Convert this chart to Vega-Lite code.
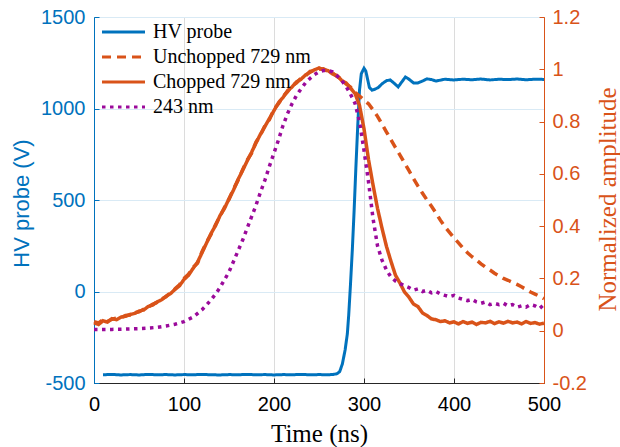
{
  "$schema": "https://vega.github.io/schema/vega-lite/v6.json",
  "width": 450,
  "height": 366,
  "autosize": {"type": "none"},
  "padding": {"left": 94, "top": 17, "right": 76, "bottom": 64},
  "background": "white",
  "config": {"view": {"stroke": "#262626", "strokeWidth": 1}, "font": "Liberation Sans", "axis": {"titleFontWeight": "normal"}, "axisX": {"titleFontWeight": "normal"}},
  "encoding": {
    "x": {"field": "t", "type": "quantitative", "scale": {"domain": [0, 500], "nice": false},
      "axis": {"title": "Time (ns)", "titleFont": "Liberation Serif", "titleFontSize": 25, "titleFontWeight": "normal", "titleColor": "#000000",
        "titleY": 58, "titleBaseline": "alphabetic",
        "labelFont": "Liberation Sans", "labelFontSize": 20, "labelColor": "#000000", "labelFlush": false, "labelOverlap": false,
        "values": [0, 100, 200, 300, 400, 500], "labelExpr": "'' + datum.value",
        "tickSize": -5, "tickColor": "#262626", "domainColor": "#262626", "labelPadding": 16,
        "grid": true, "gridColor": "#dcdcdc"}}
  },
  "layer": [
    {
      "data": {"values": [
        {"t":10,"v":-455,"s":"HV probe"},{"t":20,"v":-453,"s":"HV probe"},{"t":30,"v":-456,"s":"HV probe"},{"t":40,"v":-454,"s":"HV probe"},{"t":50,"v":-456,"s":"HV probe"},{"t":60,"v":-453,"s":"HV probe"},{"t":70,"v":-455,"s":"HV probe"},{"t":80,"v":-454,"s":"HV probe"},{"t":90,"v":-456,"s":"HV probe"},{"t":100,"v":-454,"s":"HV probe"},{"t":110,"v":-455,"s":"HV probe"},{"t":120,"v":-453,"s":"HV probe"},{"t":130,"v":-455,"s":"HV probe"},{"t":140,"v":-456,"s":"HV probe"},{"t":150,"v":-454,"s":"HV probe"},{"t":160,"v":-455,"s":"HV probe"},{"t":170,"v":-453,"s":"HV probe"},{"t":180,"v":-455,"s":"HV probe"},{"t":190,"v":-454,"s":"HV probe"},{"t":200,"v":-456,"s":"HV probe"},{"t":210,"v":-454,"s":"HV probe"},{"t":220,"v":-455,"s":"HV probe"},{"t":230,"v":-453,"s":"HV probe"},{"t":240,"v":-455,"s":"HV probe"},{"t":250,"v":-454,"s":"HV probe"},{"t":260,"v":-455,"s":"HV probe"},{"t":266,"v":-453,"s":"HV probe"},{"t":270,"v":-449,"s":"HV probe"},{"t":273,"v":-438,"s":"HV probe"},{"t":276,"v":-395,"s":"HV probe"},{"t":279,"v":-320,"s":"HV probe"},{"t":281.5,"v":-231,"s":"HV probe"},{"t":283,"v":-130,"s":"HV probe"},{"t":285,"v":40,"s":"HV probe"},{"t":287,"v":225,"s":"HV probe"},{"t":289,"v":440,"s":"HV probe"},{"t":291,"v":680,"s":"HV probe"},{"t":293,"v":900,"s":"HV probe"},{"t":295,"v":1100,"s":"HV probe"},{"t":297,"v":1190,"s":"HV probe"},{"t":300,"v":1220,"s":"HV probe"},{"t":302,"v":1205,"s":"HV probe"},{"t":304,"v":1160,"s":"HV probe"},{"t":306,"v":1115,"s":"HV probe"},{"t":309,"v":1100,"s":"HV probe"},{"t":312,"v":1105,"s":"HV probe"},{"t":316,"v":1115,"s":"HV probe"},{"t":320,"v":1135,"s":"HV probe"},{"t":325,"v":1152,"s":"HV probe"},{"t":329,"v":1156,"s":"HV probe"},{"t":333,"v":1140,"s":"HV probe"},{"t":338,"v":1118,"s":"HV probe"},{"t":342,"v":1145,"s":"HV probe"},{"t":346,"v":1172,"s":"HV probe"},{"t":350,"v":1160,"s":"HV probe"},{"t":355,"v":1140,"s":"HV probe"},{"t":360,"v":1140,"s":"HV probe"},{"t":365,"v":1150,"s":"HV probe"},{"t":370,"v":1162,"s":"HV probe"},{"t":375,"v":1158,"s":"HV probe"},{"t":380,"v":1150,"s":"HV probe"},{"t":385,"v":1155,"s":"HV probe"},{"t":390,"v":1160,"s":"HV probe"},{"t":400,"v":1156,"s":"HV probe"},{"t":410,"v":1160,"s":"HV probe"},{"t":420,"v":1157,"s":"HV probe"},{"t":430,"v":1161,"s":"HV probe"},{"t":440,"v":1156,"s":"HV probe"},{"t":450,"v":1160,"s":"HV probe"},{"t":460,"v":1158,"s":"HV probe"},{"t":470,"v":1161,"s":"HV probe"},{"t":480,"v":1157,"s":"HV probe"},{"t":490,"v":1160,"s":"HV probe"},{"t":500,"v":1159,"s":"HV probe"}
      ]},
      "mark": {"type": "line", "strokeWidth": 3},
      "encoding": {
        "y": {"field": "v", "type": "quantitative", "scale": {"domain": [-500, 1500], "nice": false},
          "axis": {"title": "HV probe (V)", "titleFont": "Liberation Sans", "titleFontSize": 22, "titleFontWeight": "normal", "titleColor": "#0072BD",
            "titleX": -73, "titleY": 186, "titleBaseline": "middle", "titleAlign": "center", "titleAngle": 270,
            "labelFont": "Liberation Sans", "labelFontSize": 20, "labelColor": "#0072BD", "labelOverlap": false, "labelFlush": false,
            "values": [-500, 0, 500, 1000, 1500], "labelExpr": "'' + datum.value",
            "tickSize": -5, "tickColor": "#0072BD", "domainColor": "#0072BD", "labelPadding": 14,
            "grid": true, "gridColor": "#d9eaf5"}},
        "color": {"field": "s", "type": "nominal",
          "scale": {"domain": ["HV probe", "Unchopped 729 nm", "Chopped 729 nm", "243 nm"], "range": ["#0072BD", "#D95319", "#D95319", "#9B0A9B"]},
          "legend": {"orient": "none", "legendX": 17, "legendY": 2.5, "title": null, "symbolType": "M-2,0H2", "symbolSize": 462, "symbolStrokeWidth": 3,
            "labelFont": "Liberation Serif", "labelFontSize": 20, "labelColor": "#000000", "rowPadding": 2, "labelOffset": 17, "padding": 0}},
        "strokeDash": {"field": "s", "type": "nominal",
          "scale": {"domain": ["HV probe", "Unchopped 729 nm", "Chopped 729 nm", "243 nm"], "range": [[1, 0], [9, 6], [1, 0], [3.5, 4.5]]},
          "legend": {"orient": "none", "legendX": 17, "legendY": 2.5, "title": null, "symbolType": "M-2,0H2", "symbolSize": 462, "symbolStrokeWidth": 3,
            "labelFont": "Liberation Serif", "labelFontSize": 20, "labelColor": "#000000", "rowPadding": 2, "labelOffset": 17, "padding": 0}}
      }
    },
    {
      "data": {"values": [
        {"t":0,"v":0.035,"s":"Unchopped 729 nm"},{"t":5,"v":0.03,"s":"Unchopped 729 nm"},{"t":10,"v":0.042,"s":"Unchopped 729 nm"},{"t":15,"v":0.036,"s":"Unchopped 729 nm"},{"t":20,"v":0.044,"s":"Unchopped 729 nm"},{"t":25,"v":0.048,"s":"Unchopped 729 nm"},{"t":30,"v":0.05,"s":"Unchopped 729 nm"},{"t":35,"v":0.058,"s":"Unchopped 729 nm"},{"t":40,"v":0.06,"s":"Unchopped 729 nm"},{"t":45,"v":0.069,"s":"Unchopped 729 nm"},{"t":50,"v":0.072,"s":"Unchopped 729 nm"},{"t":55,"v":0.082,"s":"Unchopped 729 nm"},{"t":60,"v":0.09,"s":"Unchopped 729 nm"},{"t":65,"v":0.101,"s":"Unchopped 729 nm"},{"t":70,"v":0.108,"s":"Unchopped 729 nm"},{"t":75,"v":0.121,"s":"Unchopped 729 nm"},{"t":80,"v":0.13,"s":"Unchopped 729 nm"},{"t":85,"v":0.146,"s":"Unchopped 729 nm"},{"t":90,"v":0.16,"s":"Unchopped 729 nm"},{"t":95,"v":0.176,"s":"Unchopped 729 nm"},{"t":100,"v":0.2,"s":"Unchopped 729 nm"},{"t":105,"v":0.216,"s":"Unchopped 729 nm"},{"t":110,"v":0.242,"s":"Unchopped 729 nm"},{"t":115,"v":0.258,"s":"Unchopped 729 nm"},{"t":120,"v":0.302,"s":"Unchopped 729 nm"},{"t":125,"v":0.338,"s":"Unchopped 729 nm"},{"t":130,"v":0.368,"s":"Unchopped 729 nm"},{"t":135,"v":0.405,"s":"Unchopped 729 nm"},{"t":140,"v":0.438,"s":"Unchopped 729 nm"},{"t":145,"v":0.472,"s":"Unchopped 729 nm"},{"t":150,"v":0.502,"s":"Unchopped 729 nm"},{"t":155,"v":0.542,"s":"Unchopped 729 nm"},{"t":160,"v":0.575,"s":"Unchopped 729 nm"},{"t":165,"v":0.615,"s":"Unchopped 729 nm"},{"t":170,"v":0.652,"s":"Unchopped 729 nm"},{"t":175,"v":0.678,"s":"Unchopped 729 nm"},{"t":180,"v":0.722,"s":"Unchopped 729 nm"},{"t":185,"v":0.748,"s":"Unchopped 729 nm"},{"t":190,"v":0.785,"s":"Unchopped 729 nm"},{"t":195,"v":0.808,"s":"Unchopped 729 nm"},{"t":200,"v":0.848,"s":"Unchopped 729 nm"},{"t":205,"v":0.868,"s":"Unchopped 729 nm"},{"t":210,"v":0.896,"s":"Unchopped 729 nm"},{"t":215,"v":0.914,"s":"Unchopped 729 nm"},{"t":220,"v":0.936,"s":"Unchopped 729 nm"},{"t":225,"v":0.948,"s":"Unchopped 729 nm"},{"t":230,"v":0.966,"s":"Unchopped 729 nm"},{"t":235,"v":0.974,"s":"Unchopped 729 nm"},{"t":240,"v":0.992,"s":"Unchopped 729 nm"},{"t":245,"v":0.994,"s":"Unchopped 729 nm"},{"t":250,"v":1.0,"s":"Unchopped 729 nm"},{"t":255,"v":1.002,"s":"Unchopped 729 nm"},{"t":260,"v":0.992,"s":"Unchopped 729 nm"},{"t":265,"v":0.986,"s":"Unchopped 729 nm"},{"t":270,"v":0.972,"s":"Unchopped 729 nm"},{"t":275,"v":0.962,"s":"Unchopped 729 nm"},{"t":280,"v":0.944,"s":"Unchopped 729 nm"},{"t":285,"v":0.932,"s":"Unchopped 729 nm"},{"t":290,"v":0.912,"s":"Unchopped 729 nm"},{"t":295,"v":0.898,"s":"Unchopped 729 nm"},{"t":300,"v":0.882,"s":"Unchopped 729 nm"},{"t":305,"v":0.868,"s":"Unchopped 729 nm"},{"t":310,"v":0.845,"s":"Unchopped 729 nm"},{"t":315,"v":0.82,"s":"Unchopped 729 nm"},{"t":320,"v":0.79,"s":"Unchopped 729 nm"},{"t":325,"v":0.76,"s":"Unchopped 729 nm"},{"t":330,"v":0.73,"s":"Unchopped 729 nm"},{"t":335,"v":0.7,"s":"Unchopped 729 nm"},{"t":340,"v":0.672,"s":"Unchopped 729 nm"},{"t":345,"v":0.642,"s":"Unchopped 729 nm"},{"t":350,"v":0.612,"s":"Unchopped 729 nm"},{"t":355,"v":0.582,"s":"Unchopped 729 nm"},{"t":360,"v":0.553,"s":"Unchopped 729 nm"},{"t":365,"v":0.526,"s":"Unchopped 729 nm"},{"t":370,"v":0.5,"s":"Unchopped 729 nm"},{"t":375,"v":0.476,"s":"Unchopped 729 nm"},{"t":380,"v":0.45,"s":"Unchopped 729 nm"},{"t":385,"v":0.422,"s":"Unchopped 729 nm"},{"t":390,"v":0.397,"s":"Unchopped 729 nm"},{"t":395,"v":0.376,"s":"Unchopped 729 nm"},{"t":400,"v":0.355,"s":"Unchopped 729 nm"},{"t":405,"v":0.336,"s":"Unchopped 729 nm"},{"t":410,"v":0.316,"s":"Unchopped 729 nm"},{"t":415,"v":0.298,"s":"Unchopped 729 nm"},{"t":420,"v":0.283,"s":"Unchopped 729 nm"},{"t":425,"v":0.27,"s":"Unchopped 729 nm"},{"t":430,"v":0.256,"s":"Unchopped 729 nm"},{"t":435,"v":0.243,"s":"Unchopped 729 nm"},{"t":440,"v":0.232,"s":"Unchopped 729 nm"},{"t":445,"v":0.22,"s":"Unchopped 729 nm"},{"t":450,"v":0.21,"s":"Unchopped 729 nm"},{"t":455,"v":0.2,"s":"Unchopped 729 nm"},{"t":460,"v":0.193,"s":"Unchopped 729 nm"},{"t":465,"v":0.185,"s":"Unchopped 729 nm"},{"t":470,"v":0.177,"s":"Unchopped 729 nm"},{"t":475,"v":0.168,"s":"Unchopped 729 nm"},{"t":480,"v":0.158,"s":"Unchopped 729 nm"},{"t":485,"v":0.148,"s":"Unchopped 729 nm"},{"t":490,"v":0.14,"s":"Unchopped 729 nm"},{"t":495,"v":0.132,"s":"Unchopped 729 nm"},{"t":500,"v":0.122,"s":"Unchopped 729 nm"},
        {"t":0,"v":0.03,"s":"Chopped 729 nm"},{"t":5,"v":0.024,"s":"Chopped 729 nm"},{"t":10,"v":0.038,"s":"Chopped 729 nm"},{"t":15,"v":0.033,"s":"Chopped 729 nm"},{"t":20,"v":0.046,"s":"Chopped 729 nm"},{"t":25,"v":0.042,"s":"Chopped 729 nm"},{"t":30,"v":0.052,"s":"Chopped 729 nm"},{"t":35,"v":0.055,"s":"Chopped 729 nm"},{"t":40,"v":0.062,"s":"Chopped 729 nm"},{"t":45,"v":0.066,"s":"Chopped 729 nm"},{"t":50,"v":0.075,"s":"Chopped 729 nm"},{"t":55,"v":0.079,"s":"Chopped 729 nm"},{"t":60,"v":0.092,"s":"Chopped 729 nm"},{"t":65,"v":0.098,"s":"Chopped 729 nm"},{"t":70,"v":0.11,"s":"Chopped 729 nm"},{"t":75,"v":0.118,"s":"Chopped 729 nm"},{"t":80,"v":0.132,"s":"Chopped 729 nm"},{"t":85,"v":0.142,"s":"Chopped 729 nm"},{"t":90,"v":0.158,"s":"Chopped 729 nm"},{"t":95,"v":0.172,"s":"Chopped 729 nm"},{"t":100,"v":0.196,"s":"Chopped 729 nm"},{"t":105,"v":0.212,"s":"Chopped 729 nm"},{"t":110,"v":0.238,"s":"Chopped 729 nm"},{"t":115,"v":0.262,"s":"Chopped 729 nm"},{"t":120,"v":0.298,"s":"Chopped 729 nm"},{"t":125,"v":0.335,"s":"Chopped 729 nm"},{"t":130,"v":0.372,"s":"Chopped 729 nm"},{"t":135,"v":0.402,"s":"Chopped 729 nm"},{"t":140,"v":0.44,"s":"Chopped 729 nm"},{"t":145,"v":0.468,"s":"Chopped 729 nm"},{"t":150,"v":0.505,"s":"Chopped 729 nm"},{"t":155,"v":0.538,"s":"Chopped 729 nm"},{"t":160,"v":0.578,"s":"Chopped 729 nm"},{"t":165,"v":0.612,"s":"Chopped 729 nm"},{"t":170,"v":0.648,"s":"Chopped 729 nm"},{"t":175,"v":0.682,"s":"Chopped 729 nm"},{"t":180,"v":0.718,"s":"Chopped 729 nm"},{"t":185,"v":0.752,"s":"Chopped 729 nm"},{"t":190,"v":0.782,"s":"Chopped 729 nm"},{"t":195,"v":0.812,"s":"Chopped 729 nm"},{"t":200,"v":0.842,"s":"Chopped 729 nm"},{"t":205,"v":0.872,"s":"Chopped 729 nm"},{"t":210,"v":0.892,"s":"Chopped 729 nm"},{"t":215,"v":0.918,"s":"Chopped 729 nm"},{"t":220,"v":0.932,"s":"Chopped 729 nm"},{"t":225,"v":0.952,"s":"Chopped 729 nm"},{"t":230,"v":0.962,"s":"Chopped 729 nm"},{"t":235,"v":0.978,"s":"Chopped 729 nm"},{"t":240,"v":0.988,"s":"Chopped 729 nm"},{"t":245,"v":0.998,"s":"Chopped 729 nm"},{"t":250,"v":1.005,"s":"Chopped 729 nm"},{"t":255,"v":0.998,"s":"Chopped 729 nm"},{"t":260,"v":0.995,"s":"Chopped 729 nm"},{"t":265,"v":0.982,"s":"Chopped 729 nm"},{"t":270,"v":0.976,"s":"Chopped 729 nm"},{"t":275,"v":0.958,"s":"Chopped 729 nm"},{"t":280,"v":0.948,"s":"Chopped 729 nm"},{"t":285,"v":0.928,"s":"Chopped 729 nm"},{"t":290,"v":0.908,"s":"Chopped 729 nm"},{"t":295,"v":0.862,"s":"Chopped 729 nm"},{"t":300,"v":0.772,"s":"Chopped 729 nm"},{"t":305,"v":0.655,"s":"Chopped 729 nm"},{"t":310,"v":0.558,"s":"Chopped 729 nm"},{"t":315,"v":0.468,"s":"Chopped 729 nm"},{"t":320,"v":0.392,"s":"Chopped 729 nm"},{"t":325,"v":0.322,"s":"Chopped 729 nm"},{"t":330,"v":0.265,"s":"Chopped 729 nm"},{"t":335,"v":0.212,"s":"Chopped 729 nm"},{"t":340,"v":0.182,"s":"Chopped 729 nm"},{"t":345,"v":0.148,"s":"Chopped 729 nm"},{"t":350,"v":0.128,"s":"Chopped 729 nm"},{"t":355,"v":0.102,"s":"Chopped 729 nm"},{"t":360,"v":0.092,"s":"Chopped 729 nm"},{"t":365,"v":0.068,"s":"Chopped 729 nm"},{"t":370,"v":0.058,"s":"Chopped 729 nm"},{"t":375,"v":0.045,"s":"Chopped 729 nm"},{"t":380,"v":0.042,"s":"Chopped 729 nm"},{"t":385,"v":0.035,"s":"Chopped 729 nm"},{"t":390,"v":0.038,"s":"Chopped 729 nm"},{"t":395,"v":0.03,"s":"Chopped 729 nm"},{"t":400,"v":0.034,"s":"Chopped 729 nm"},{"t":405,"v":0.026,"s":"Chopped 729 nm"},{"t":410,"v":0.035,"s":"Chopped 729 nm"},{"t":415,"v":0.028,"s":"Chopped 729 nm"},{"t":420,"v":0.033,"s":"Chopped 729 nm"},{"t":425,"v":0.024,"s":"Chopped 729 nm"},{"t":430,"v":0.032,"s":"Chopped 729 nm"},{"t":435,"v":0.03,"s":"Chopped 729 nm"},{"t":440,"v":0.036,"s":"Chopped 729 nm"},{"t":445,"v":0.027,"s":"Chopped 729 nm"},{"t":450,"v":0.034,"s":"Chopped 729 nm"},{"t":455,"v":0.029,"s":"Chopped 729 nm"},{"t":460,"v":0.036,"s":"Chopped 729 nm"},{"t":465,"v":0.03,"s":"Chopped 729 nm"},{"t":470,"v":0.033,"s":"Chopped 729 nm"},{"t":475,"v":0.026,"s":"Chopped 729 nm"},{"t":480,"v":0.035,"s":"Chopped 729 nm"},{"t":485,"v":0.028,"s":"Chopped 729 nm"},{"t":490,"v":0.031,"s":"Chopped 729 nm"},{"t":495,"v":0.025,"s":"Chopped 729 nm"},{"t":500,"v":0.029,"s":"Chopped 729 nm"},
        {"t":0,"v":0.005,"s":"243 nm"},{"t":10,"v":0.005,"s":"243 nm"},{"t":20,"v":0.005,"s":"243 nm"},{"t":30,"v":0.006,"s":"243 nm"},{"t":40,"v":0.007,"s":"243 nm"},{"t":50,"v":0.008,"s":"243 nm"},{"t":60,"v":0.01,"s":"243 nm"},{"t":70,"v":0.013,"s":"243 nm"},{"t":80,"v":0.018,"s":"243 nm"},{"t":90,"v":0.025,"s":"243 nm"},{"t":100,"v":0.035,"s":"243 nm"},{"t":110,"v":0.052,"s":"243 nm"},{"t":120,"v":0.08,"s":"243 nm"},{"t":125,"v":0.098,"s":"243 nm"},{"t":130,"v":0.118,"s":"243 nm"},{"t":135,"v":0.14,"s":"243 nm"},{"t":140,"v":0.165,"s":"243 nm"},{"t":145,"v":0.195,"s":"243 nm"},{"t":150,"v":0.225,"s":"243 nm"},{"t":155,"v":0.265,"s":"243 nm"},{"t":160,"v":0.305,"s":"243 nm"},{"t":165,"v":0.345,"s":"243 nm"},{"t":170,"v":0.39,"s":"243 nm"},{"t":175,"v":0.435,"s":"243 nm"},{"t":180,"v":0.48,"s":"243 nm"},{"t":185,"v":0.53,"s":"243 nm"},{"t":190,"v":0.577,"s":"243 nm"},{"t":195,"v":0.63,"s":"243 nm"},{"t":200,"v":0.68,"s":"243 nm"},{"t":205,"v":0.73,"s":"243 nm"},{"t":210,"v":0.785,"s":"243 nm"},{"t":215,"v":0.83,"s":"243 nm"},{"t":220,"v":0.868,"s":"243 nm"},{"t":225,"v":0.9,"s":"243 nm"},{"t":230,"v":0.925,"s":"243 nm"},{"t":235,"v":0.948,"s":"243 nm"},{"t":240,"v":0.965,"s":"243 nm"},{"t":245,"v":0.98,"s":"243 nm"},{"t":250,"v":0.99,"s":"243 nm"},{"t":255,"v":0.995,"s":"243 nm"},{"t":260,"v":0.995,"s":"243 nm"},{"t":265,"v":0.99,"s":"243 nm"},{"t":270,"v":0.975,"s":"243 nm"},{"t":275,"v":0.958,"s":"243 nm"},{"t":280,"v":0.935,"s":"243 nm"},{"t":285,"v":0.905,"s":"243 nm"},{"t":290,"v":0.87,"s":"243 nm"},{"t":295,"v":0.8,"s":"243 nm"},{"t":300,"v":0.69,"s":"243 nm"},{"t":305,"v":0.57,"s":"243 nm"},{"t":310,"v":0.43,"s":"243 nm"},{"t":315,"v":0.325,"s":"243 nm"},{"t":320,"v":0.27,"s":"243 nm"},{"t":325,"v":0.232,"s":"243 nm"},{"t":330,"v":0.205,"s":"243 nm"},{"t":335,"v":0.19,"s":"243 nm"},{"t":340,"v":0.18,"s":"243 nm"},{"t":345,"v":0.172,"s":"243 nm"},{"t":350,"v":0.165,"s":"243 nm"},{"t":355,"v":0.155,"s":"243 nm"},{"t":360,"v":0.16,"s":"243 nm"},{"t":365,"v":0.15,"s":"243 nm"},{"t":370,"v":0.155,"s":"243 nm"},{"t":375,"v":0.145,"s":"243 nm"},{"t":380,"v":0.15,"s":"243 nm"},{"t":385,"v":0.14,"s":"243 nm"},{"t":390,"v":0.135,"s":"243 nm"},{"t":395,"v":0.13,"s":"243 nm"},{"t":400,"v":0.135,"s":"243 nm"},{"t":405,"v":0.125,"s":"243 nm"},{"t":410,"v":0.12,"s":"243 nm"},{"t":415,"v":0.115,"s":"243 nm"},{"t":420,"v":0.12,"s":"243 nm"},{"t":425,"v":0.11,"s":"243 nm"},{"t":430,"v":0.105,"s":"243 nm"},{"t":435,"v":0.11,"s":"243 nm"},{"t":440,"v":0.1,"s":"243 nm"},{"t":445,"v":0.105,"s":"243 nm"},{"t":450,"v":0.1,"s":"243 nm"},{"t":455,"v":0.105,"s":"243 nm"},{"t":460,"v":0.095,"s":"243 nm"},{"t":465,"v":0.1,"s":"243 nm"},{"t":470,"v":0.09,"s":"243 nm"},{"t":475,"v":0.095,"s":"243 nm"},{"t":480,"v":0.09,"s":"243 nm"},{"t":485,"v":0.1,"s":"243 nm"},{"t":490,"v":0.095,"s":"243 nm"},{"t":495,"v":0.085,"s":"243 nm"},{"t":500,"v":0.1,"s":"243 nm"}
      ]},
      "mark": {"type": "line", "strokeWidth": 3.5, "strokeCap": "butt"},
      "encoding": {
        "y": {"field": "v", "type": "quantitative", "scale": {"domain": [-0.2, 1.2], "nice": false},
          "axis": {"orient": "right", "title": "Normalized amplitude", "titleFont": "Liberation Serif", "titleFontSize": 25, "titleFontWeight": "normal", "titleColor": "#D95319",
            "titleX": 63, "titleY": 182, "titleBaseline": "middle", "titleAlign": "center", "titleAngle": 270,
            "labelFont": "Liberation Sans", "labelFontSize": 20, "labelColor": "#D95319", "labelOverlap": false, "labelFlush": false,
            "values": [-0.2, 0, 0.2, 0.4, 0.6, 0.8, 1, 1.2], "labelExpr": "'' + datum.value",
            "tickSize": -5, "tickColor": "#D95319", "domainColor": "#D95319", "labelPadding": 13, "grid": false}},
        "color": {"field": "s", "type": "nominal"},
        "strokeDash": {"field": "s", "type": "nominal"}
      }
    }
  ],
  "resolve": {"scale": {"y": "independent"}}
}
